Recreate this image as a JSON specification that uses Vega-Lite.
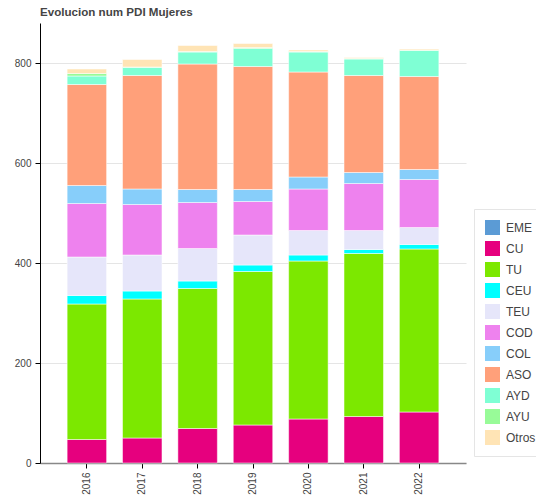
{
  "$schema": "https://vega.github.io/schema/vega-lite/v6.json",
  "width": 426,
  "height": 440,
  "autosize": {"type": "none"},
  "padding": {"left": 40, "top": 23, "right": 70, "bottom": 32},
  "background": "white",
  "title": {"text": "Evolucion num PDI Mujeres", "anchor": "start", "frame": "group", "font": "Liberation Sans", "fontSize": 11.6, "fontWeight": "bold", "color": "#444444", "offset": 4},
  "data": {"values": [
    {"anio": "2016", "categoria": "CU", "valor": 47},
    {"anio": "2016", "categoria": "TU", "valor": 271},
    {"anio": "2016", "categoria": "CEU", "valor": 17},
    {"anio": "2016", "categoria": "TEU", "valor": 77},
    {"anio": "2016", "categoria": "COD", "valor": 107},
    {"anio": "2016", "categoria": "COL", "valor": 36},
    {"anio": "2016", "categoria": "ASO", "valor": 202},
    {"anio": "2016", "categoria": "AYD", "valor": 17},
    {"anio": "2016", "categoria": "AYU", "valor": 5},
    {"anio": "2016", "categoria": "Otros", "valor": 9},
    {"anio": "2017", "categoria": "CU", "valor": 50},
    {"anio": "2017", "categoria": "TU", "valor": 278},
    {"anio": "2017", "categoria": "CEU", "valor": 16},
    {"anio": "2017", "categoria": "TEU", "valor": 72},
    {"anio": "2017", "categoria": "COD", "valor": 101},
    {"anio": "2017", "categoria": "COL", "valor": 31},
    {"anio": "2017", "categoria": "ASO", "valor": 227},
    {"anio": "2017", "categoria": "AYD", "valor": 16},
    {"anio": "2017", "categoria": "AYU", "valor": 1},
    {"anio": "2017", "categoria": "Otros", "valor": 15},
    {"anio": "2018", "categoria": "CU", "valor": 69},
    {"anio": "2018", "categoria": "TU", "valor": 280},
    {"anio": "2018", "categoria": "CEU", "valor": 15},
    {"anio": "2018", "categoria": "TEU", "valor": 65},
    {"anio": "2018", "categoria": "COD", "valor": 92},
    {"anio": "2018", "categoria": "COL", "valor": 26},
    {"anio": "2018", "categoria": "ASO", "valor": 251},
    {"anio": "2018", "categoria": "AYD", "valor": 24},
    {"anio": "2018", "categoria": "AYU", "valor": 1},
    {"anio": "2018", "categoria": "Otros", "valor": 12},
    {"anio": "2019", "categoria": "CU", "valor": 76},
    {"anio": "2019", "categoria": "TU", "valor": 307},
    {"anio": "2019", "categoria": "CEU", "valor": 13},
    {"anio": "2019", "categoria": "TEU", "valor": 60},
    {"anio": "2019", "categoria": "COD", "valor": 67},
    {"anio": "2019", "categoria": "COL", "valor": 24},
    {"anio": "2019", "categoria": "ASO", "valor": 246},
    {"anio": "2019", "categoria": "AYD", "valor": 36},
    {"anio": "2019", "categoria": "AYU", "valor": 2},
    {"anio": "2019", "categoria": "Otros", "valor": 8},
    {"anio": "2020", "categoria": "CU", "valor": 88},
    {"anio": "2020", "categoria": "TU", "valor": 316},
    {"anio": "2020", "categoria": "CEU", "valor": 12},
    {"anio": "2020", "categoria": "TEU", "valor": 49},
    {"anio": "2020", "categoria": "COD", "valor": 83},
    {"anio": "2020", "categoria": "COL", "valor": 24},
    {"anio": "2020", "categoria": "ASO", "valor": 210},
    {"anio": "2020", "categoria": "AYD", "valor": 40},
    {"anio": "2020", "categoria": "AYU", "valor": 1},
    {"anio": "2020", "categoria": "Otros", "valor": 3},
    {"anio": "2021", "categoria": "CU", "valor": 93},
    {"anio": "2021", "categoria": "TU", "valor": 326},
    {"anio": "2021", "categoria": "CEU", "valor": 8},
    {"anio": "2021", "categoria": "TEU", "valor": 38},
    {"anio": "2021", "categoria": "COD", "valor": 94},
    {"anio": "2021", "categoria": "COL", "valor": 22},
    {"anio": "2021", "categoria": "ASO", "valor": 194},
    {"anio": "2021", "categoria": "AYD", "valor": 33},
    {"anio": "2021", "categoria": "AYU", "valor": 1},
    {"anio": "2021", "categoria": "Otros", "valor": 2},
    {"anio": "2022", "categoria": "CU", "valor": 102},
    {"anio": "2022", "categoria": "TU", "valor": 326},
    {"anio": "2022", "categoria": "CEU", "valor": 9},
    {"anio": "2022", "categoria": "TEU", "valor": 34},
    {"anio": "2022", "categoria": "COD", "valor": 96},
    {"anio": "2022", "categoria": "COL", "valor": 20},
    {"anio": "2022", "categoria": "ASO", "valor": 186},
    {"anio": "2022", "categoria": "AYD", "valor": 52},
    {"anio": "2022", "categoria": "AYU", "valor": 1},
    {"anio": "2022", "categoria": "Otros", "valor": 2}
  ]},
  "transform": [
    {"calculate": "indexof(['EME','CU','TU','CEU','TEU','COD','COL','ASO','AYD','AYU','Otros'], datum.categoria)", "as": "orden"}
  ],
  "mark": {"type": "bar", "stroke": "white", "strokeWidth": 1, "strokeOpacity": 0.5},
  "encoding": {
    "x": {
      "field": "anio", "type": "ordinal",
      "scale": {"paddingInner": 0.287, "paddingOuter": 0.49},
      "axis": {"title": null, "labelAngle": -90, "labelFont": "Liberation Sans", "labelFontSize": 10, "labelColor": "#444444", "tickColor": "black", "tickSize": 5, "domainColor": "#888888", "domainWidth": 1.5, "labelPadding": 4, "grid": false}
    },
    "y": {
      "field": "valor", "type": "quantitative", "stack": "zero",
      "scale": {"domain": [0, 880], "nice": false},
      "axis": {"title": null, "values": [0, 200, 400, 600, 800], "labelFont": "Liberation Sans", "labelFontSize": 10, "labelColor": "#444444", "tickColor": "black", "tickSize": 5, "domainColor": "black", "gridColor": "#e5e5e5", "labelPadding": 4}
    },
    "color": {
      "field": "categoria", "type": "nominal",
      "scale": {
        "domain": ["EME", "CU", "TU", "CEU", "TEU", "COD", "COL", "ASO", "AYD", "AYU", "Otros"],
        "range": ["#5B9BD5", "#E6007E", "#7CE800", "#00FFFF", "#E6E6FA", "#EE82EE", "#87CEFA", "#FFA07A", "#7FFFD4", "#98FB98", "#FFE4B5"]
      },
      "legend": {"title": null, "orient": "none", "legendX": 434, "legendY": 186, "strokeColor": "#e5e5e5", "fillColor": "white", "padding": 11, "symbolType": "square", "symbolSize": 225, "symbolStrokeWidth": 0, "symbolOpacity": 1, "labelFont": "Liberation Sans", "labelFontSize": 12, "labelColor": "#444444", "rowPadding": 6, "labelOffset": 6}
    },
    "order": {"field": "orden", "type": "quantitative", "sort": "ascending"}
  },
  "config": {"view": {"stroke": null}}
}
